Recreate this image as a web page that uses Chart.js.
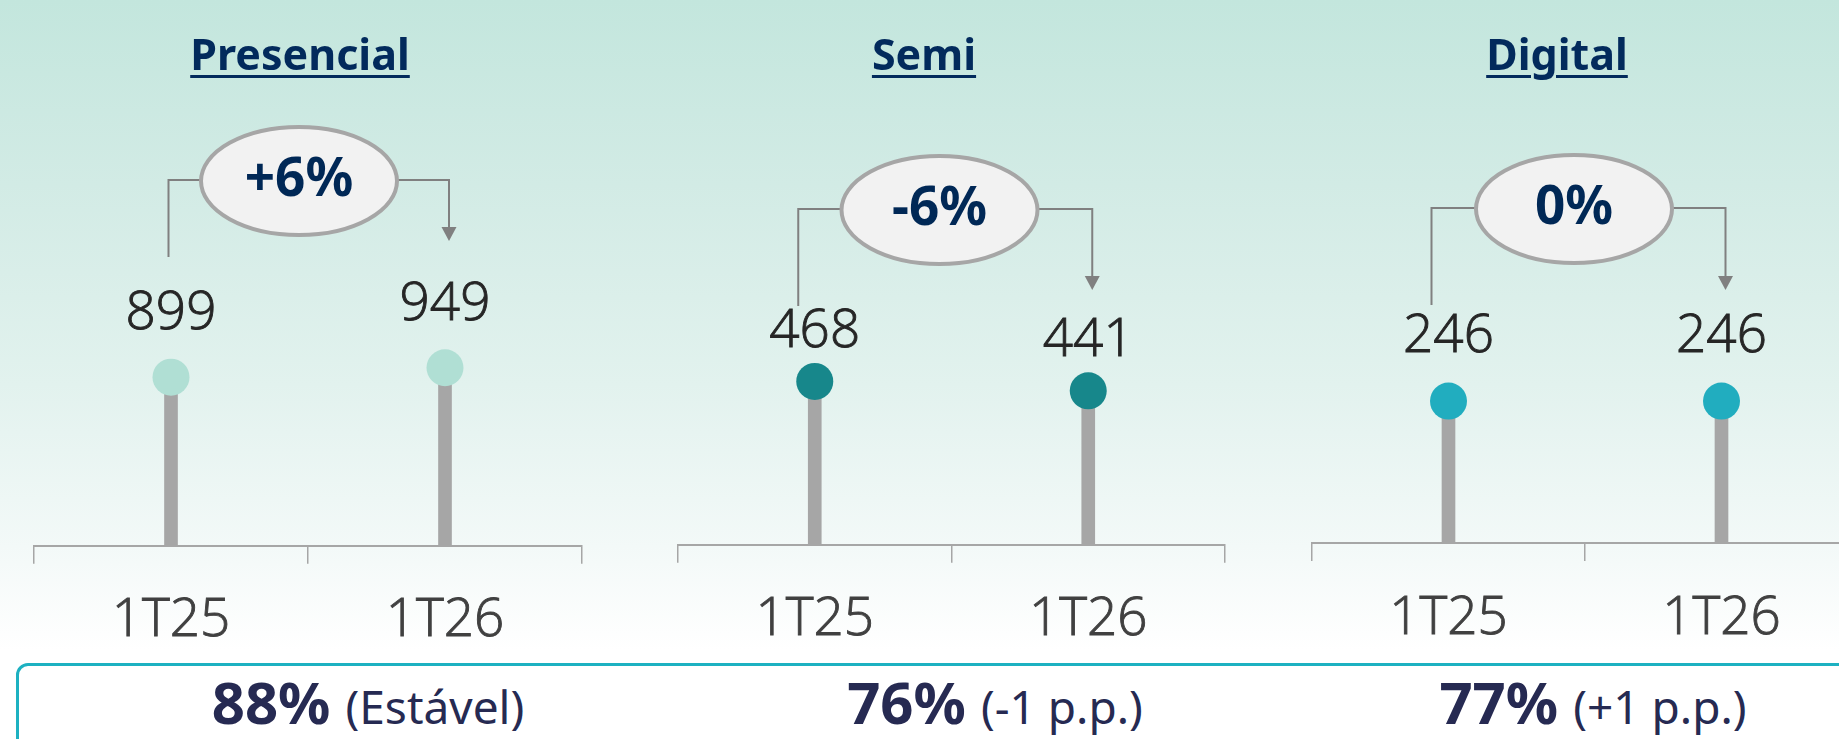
<!DOCTYPE html>
<html lang="pt">
<head>
<meta charset="UTF-8">
<title>Canais 1T25 x 1T26</title>
<script src="https://cdn.jsdelivr.net/npm/chart.js"></script>
<style>
    html, body {
        margin: 0;
        padding: 0;
        width: 1839px;
        height: 739px;
        overflow: hidden;
        background: #fff;
    }
    #stage {
        position: absolute;
        left: 0;
        top: 0;
        width: 1839px;
        height: 739px;
        overflow: hidden;
        background: linear-gradient(to bottom, #c3e6dd 0%, #d2ebe5 25%, #e2f2ee 52%, #f3f9f8 74%, #ffffff 88%);
        font-family: "Noto Sans", sans-serif;
    }
    .panel {
        position: absolute;
        top: 0;
        height: 660px;
    }
    .title {
        position: absolute;
        top: 32px;
        width: 400px;
        margin-left: -200px;
        text-align: center;
        font-weight: 700;
        font-size: 43px;
        line-height: 43px;
        color: #022a5c;
    }
    .title span {
        text-decoration: underline;
        text-decoration-thickness: 3px;
        text-underline-offset: 5px;
    }
    #box {
        position: absolute;
        left: 16px;
        top: 663px;
        width: 1900px;
        height: 140px;
        box-sizing: border-box;
        border: 3px solid #1db1c1;
        border-radius: 12px;
        background: #fff;
    }
    .share {
        position: absolute;
        top: 673px;
        width: 700px;
        margin-left: -350px;
        text-align: center;
        white-space: nowrap;
        font-size: 58px;
        line-height: 58px;
        color: #262a52;
    }
    .share b { font-weight: 700; }
    .share span { font-size: 46px; }
</style>
</head>
<body>
<div id="stage">
    <div id="box"></div>
</div>

<script>
    // dados
    const periods = ['1T25', '1T26'];
    const channels = ['Presencial', 'Semi', 'Digital'];
    const presencialValues = [899, 949];
    const semiValues = [468, 441];
    const digitalValues = [246, 246];
    const variations = ['+6%', '-6%', '0%'];
    const shareValues = ['88%', '76%', '77%'];
    const shareNotes = ['(Estável)', '(-1 p.p.)', '(+1 p.p.)'];
    const yMaxValues = [1600, 860, 520];

    const seriesByChannel = [presencialValues, semiValues, digitalValues];

    // posicoes e estilos de cada painel
    const panelLayout = [
        { left: 14.4, width: 588, axisY: 545.7, titleX: 300, shareX: 368, dot: '#b0dfd4',
          labelGap: 48, ellipseDx: -9, cy: 181, leftEnd: 257, tip: 241, leftDx: -2.5 },
        { left: 658, width: 587, axisY: 544.7, titleX: 924, shareX: 995, dot: '#17878b',
          labelGap: 34.5, ellipseDx: -12, cy: 210, leftEnd: 306, tip: 290, leftDx: -16.5 },
        { left: 1291.5, width: 586, axisY: 543, titleX: 1557, shareX: 1593, dot: '#21adbf',
          labelGap: 49, ellipseDx: -11, cy: 209, leftEnd: 305, tip: 290, leftDx: -17 }
    ];

    const PLOT_H = 300;
    const CANVAS_H = 660;
    const AXIS_GRAY = '#a6a6a6';

    // rotulos de valor, elipse de variacao e setas
    const lollipopExtras = {
        id: 'lollipopExtras',
        afterDraw(chart, args, opts) {
            const ctx = chart.ctx;
            const area = chart.chartArea;
            const dots = chart.getDatasetMeta(1).data;
            const values = chart.data.datasets[1].data;

            ctx.save();

            ctx.font = '300 53px "Open Sans", "Noto Sans", sans-serif';
            ctx.fillStyle = '#262626';
            ctx.strokeStyle = '#262626';
            ctx.lineWidth = 0.9;
            ctx.textAlign = 'center';
            ctx.textBaseline = 'alphabetic';
            dots.forEach((pt, i) => {
                ctx.fillText(String(values[i]), pt.x, pt.y - opts.labelGap);
                ctx.strokeText(String(values[i]), pt.x, pt.y - opts.labelGap);
            });

            const cx = (area.left + area.right) / 2 + opts.ellipseDx;
            const cy = opts.cy;
            const lineY = cy - 1;
            const xL = dots[0].x + opts.leftDx;
            const xR = dots[1].x + 4;

            ctx.strokeStyle = '#808080';
            ctx.lineWidth = 2;
            ctx.beginPath();
            ctx.moveTo(xL, opts.leftEnd);
            ctx.lineTo(xL, lineY);
            ctx.lineTo(cx, lineY);
            ctx.moveTo(cx, lineY);
            ctx.lineTo(xR, lineY);
            ctx.lineTo(xR, opts.tip - 13);
            ctx.stroke();

            ctx.fillStyle = '#808080';
            ctx.beginPath();
            ctx.moveTo(xR - 7.5, opts.tip - 14);
            ctx.lineTo(xR + 7.5, opts.tip - 14);
            ctx.lineTo(xR, opts.tip);
            ctx.closePath();
            ctx.fill();

            ctx.beginPath();
            ctx.ellipse(cx, cy, 98, 54, 0, 0, Math.PI * 2);
            ctx.fillStyle = '#f2f2f2';
            ctx.fill();
            ctx.lineWidth = 4;
            ctx.strokeStyle = AXIS_GRAY;
            ctx.stroke();

            ctx.font = '700 53px "Noto Sans", sans-serif';
            ctx.fillStyle = '#002856';
            ctx.textBaseline = 'middle';
            ctx.fillText(opts.text, cx, cy);

            ctx.restore();
        }
    };

    const stage = document.getElementById('stage');

    channels.forEach((name, i) => {
        const lay = panelLayout[i];

        const wrap = document.createElement('div');
        wrap.className = 'panel';
        wrap.style.left = lay.left + 'px';
        wrap.style.width = lay.width + 'px';
        const canvas = document.createElement('canvas');
        wrap.appendChild(canvas);
        stage.appendChild(wrap);

        const title = document.createElement('div');
        title.className = 'title';
        title.style.left = lay.titleX + 'px';
        title.innerHTML = '<span>' + name + '</span>';
        stage.appendChild(title);

        const share = document.createElement('div');
        share.className = 'share';
        share.style.left = lay.shareX + 'px';
        share.innerHTML = '<b>' + shareValues[i] + '</b> <span>' + shareNotes[i] + '</span>';
        stage.appendChild(share);

        new Chart(canvas, {
            type: 'bar',
            data: {
                labels: periods,
                datasets: [
                    {
                        type: 'bar',
                        data: seriesByChannel[i],
                        backgroundColor: AXIS_GRAY,
                        barThickness: 13,
                        order: 2
                    },
                    {
                        type: 'line',
                        data: seriesByChannel[i],
                        showLine: false,
                        pointRadius: 18.5,
                        pointHoverRadius: 18.5,
                        pointBorderWidth: 0,
                        pointBackgroundColor: lay.dot,
                        order: 1
                    }
                ]
            },
            options: {
                responsive: true,
                maintainAspectRatio: false,
                animation: false,
                events: [],
                layout: { padding: { top: lay.axisY - PLOT_H, left: 20, right: 20, bottom: 0 } },
                plugins: {
                    legend: { display: false },
                    tooltip: { enabled: false },
                    lollipopExtras: {
                        text: variations[i],
                        labelGap: lay.labelGap,
                        ellipseDx: lay.ellipseDx,
                        cy: lay.cy,
                        leftEnd: lay.leftEnd,
                        tip: lay.tip,
                        leftDx: lay.leftDx
                    }
                },
                scales: {
                    x: {
                        type: 'category',
                        offset: true,
                        afterFit: (scale) => { scale.height = CANVAS_H - lay.axisY; },
                        grid: {
                            offset: true,
                            drawOnChartArea: false,
                            tickLength: 18,
                            lineWidth: 1.5,
                            color: AXIS_GRAY
                        },
                        border: { display: true, color: AXIS_GRAY, width: 2 },
                        ticks: {
                            color: '#404040',
                            textStrokeColor: '#404040',
                            textStrokeWidth: 0.9,
                            padding: 31,
                            maxRotation: 0,
                            autoSkip: false,
                            font: { family: '"Open Sans", "Noto Sans", sans-serif', weight: '300', size: 53, lineHeight: 1 }
                        }
                    },
                    y: { display: false, min: 0, max: yMaxValues[i] }
                }
            },
            plugins: [lollipopExtras]
        });
    });
</script>
</body>
</html>
